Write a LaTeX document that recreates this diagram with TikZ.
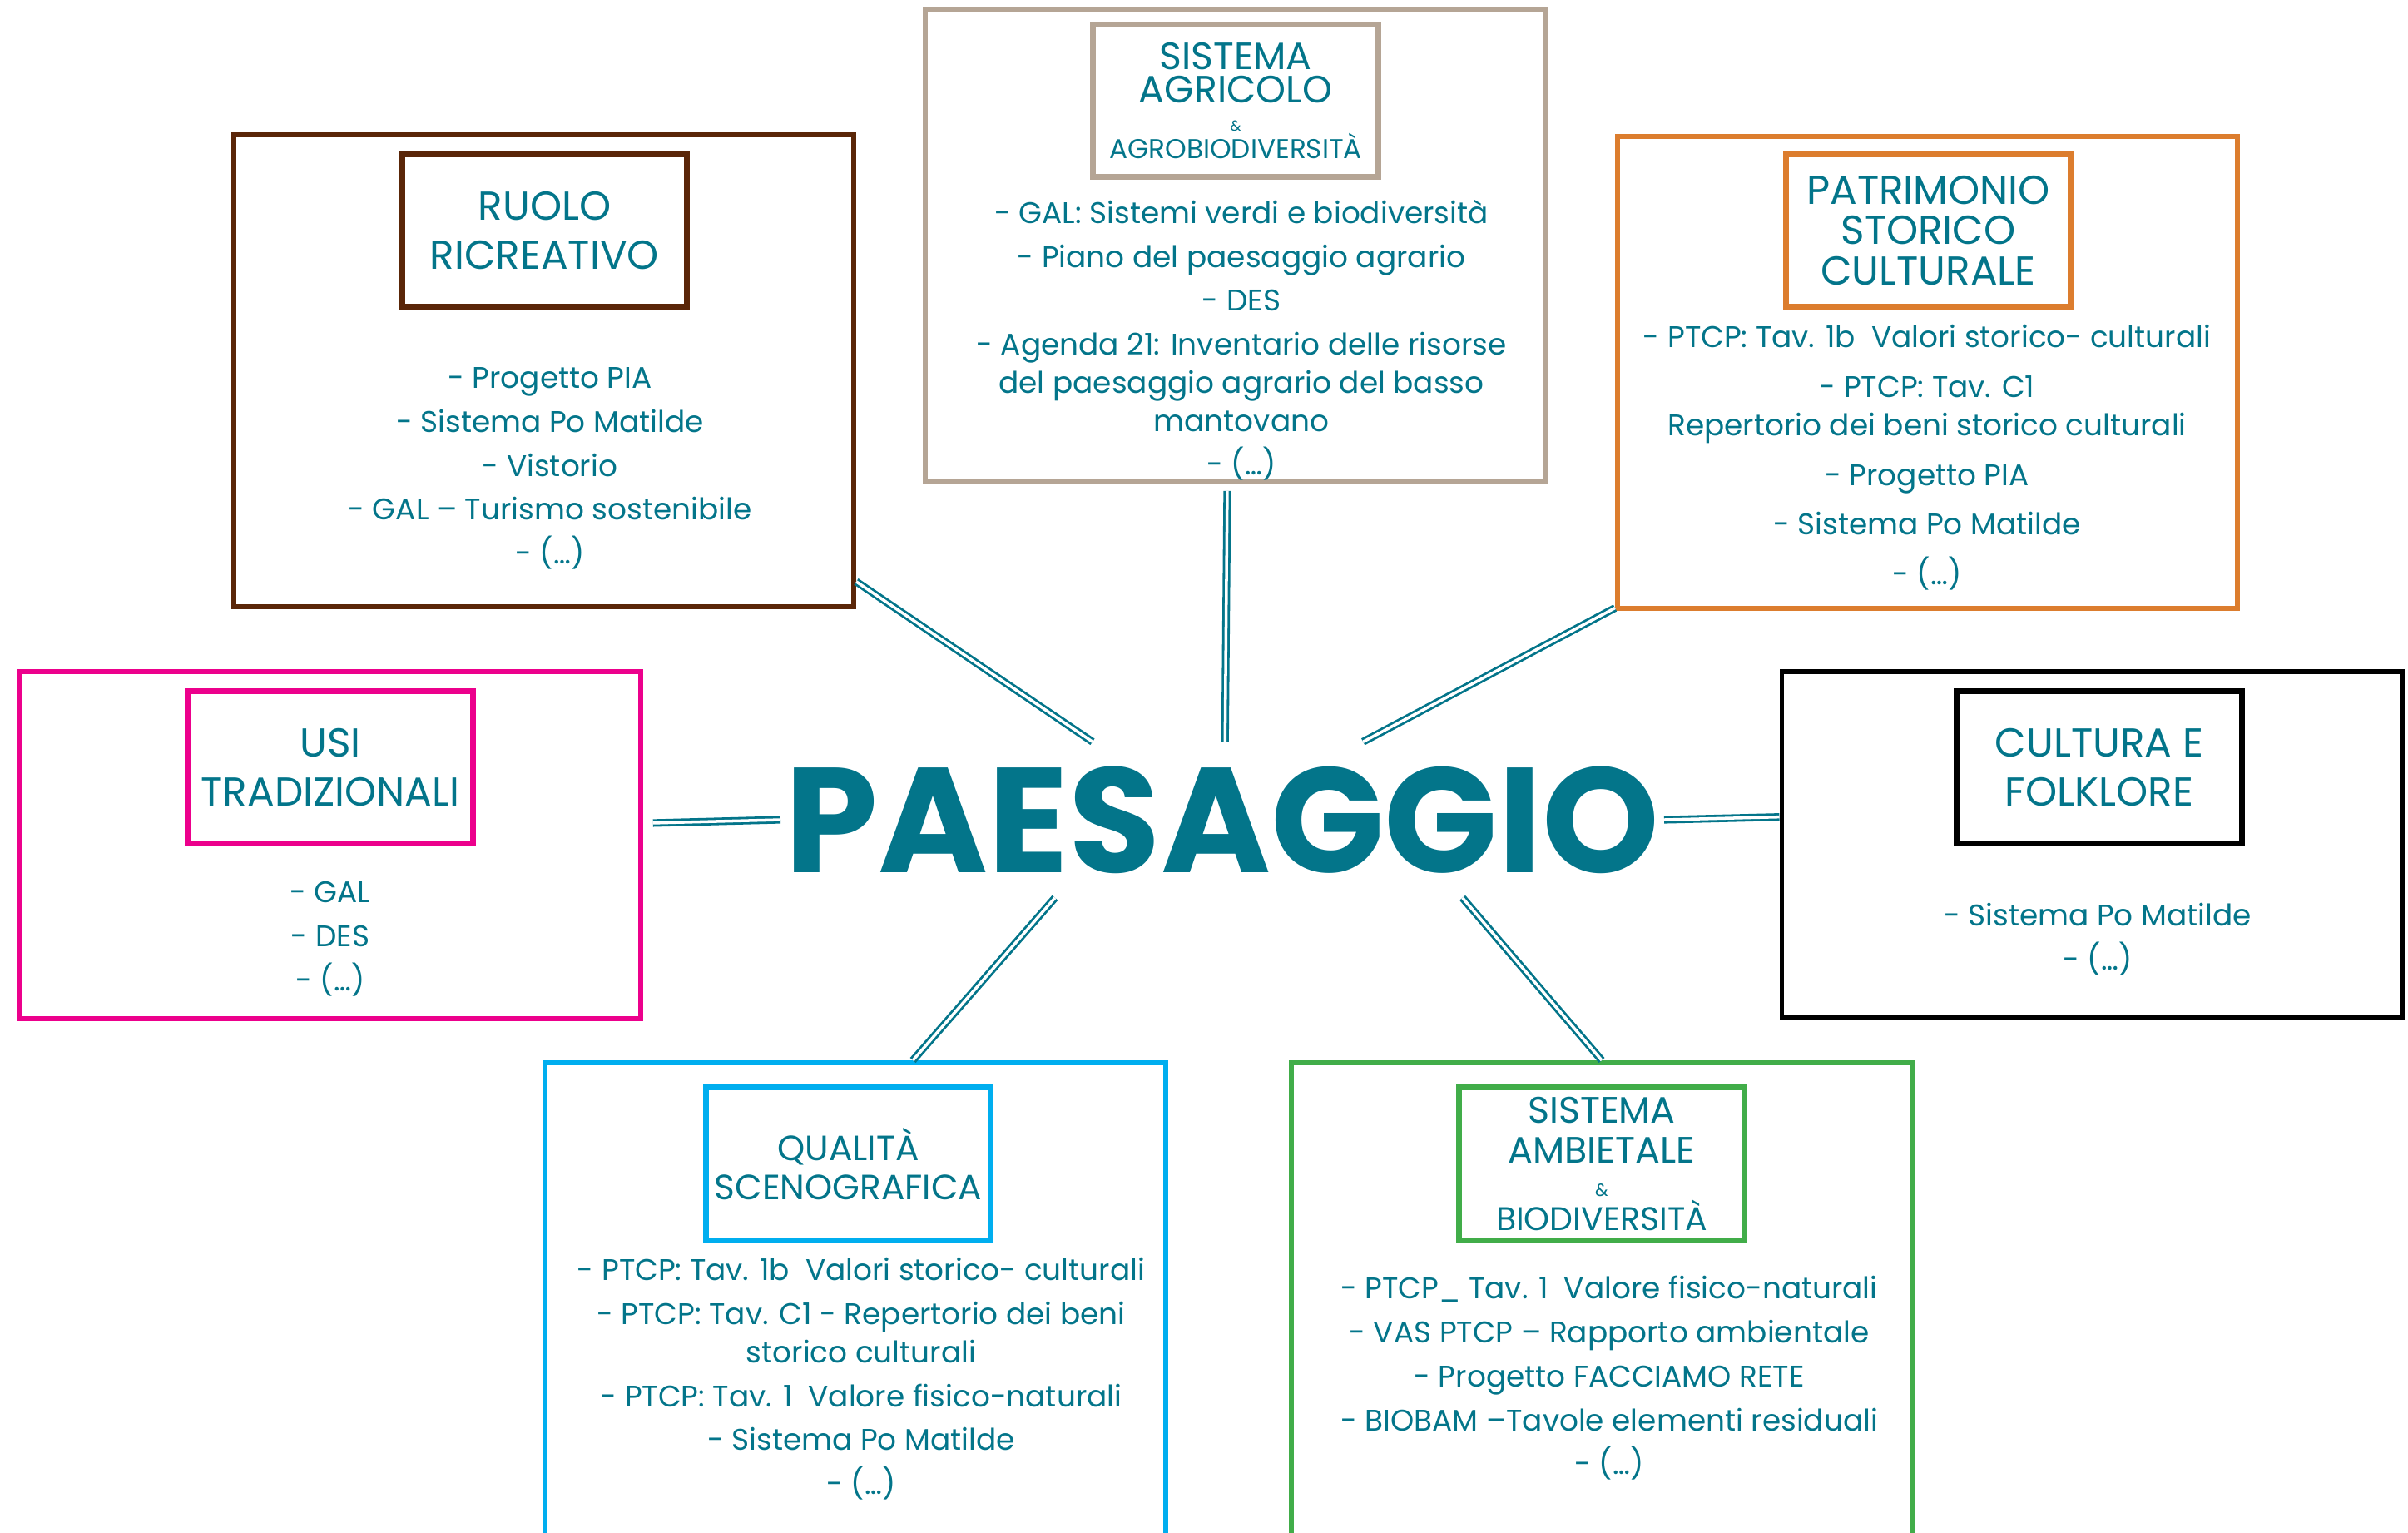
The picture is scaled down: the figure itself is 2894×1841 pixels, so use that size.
\documentclass[tikz,border=0pt]{standalone}
\usepackage{fontspec}
\setmainfont{Poppins}
\definecolor{cText}{RGB}{3,117,138}
\definecolor{cBrown}{RGB}{90,38,8}
\definecolor{cTan}{RGB}{181,165,149}
\definecolor{cOrange}{RGB}{220,125,46}
\definecolor{cMagenta}{RGB}{236,0,140}
\definecolor{cCyan}{RGB}{0,174,239}
\definecolor{cGreen}{RGB}{65,173,73}
\begin{document}
\begin{tikzpicture}[x=0.01cm,y=-0.01cm,
    every node/.style={text=cText,align=center},
    outerbox/.style={draw=#1,line width=1.6pt,minimum width=7.45cm,inner sep=0pt},
    titlebox/.style={draw=#1,line width=2pt,minimum width=3.42cm,minimum height=1.83cm,inner sep=0pt,font=\fontsize{13.8}{17}\selectfont},
    items/.style={font=\fontsize{10.2}{13}\selectfont},
    link/.style={draw=cText,line width=0.8pt,double=white,double distance=1pt}]
        \useasboundingbox (0,0) rectangle (2894,1841);
        %% Centre
        \node[font=\fontsize{51}{51}\selectfont\bfseries,minimum width=10.6cm,minimum height=1.86cm,inner sep=0pt] (paesaggio) at (1469,985) {PAESAGGIO};
        %% Boxes
        \node[outerbox=cBrown,minimum height=5.67cm] (ruolo) at (653.5,445.5) {};
        \node[titlebox=cBrown] (ruoloT) at (654.5,277) {RUOLO\\RICREATIVO};
        \node[items] (ruoloL) at (661,563) {- Progetto PIA\\[2pt]- Sistema Po Matilde\\[2pt]- Vistorio\\[2pt]- GAL – Turismo sostenibile\\[2pt]- (…)};

        \node[outerbox=cTan,minimum height=5.67cm] (agricolo) at (1485,294.5) {};
        \node[titlebox=cTan,font=\fontsize{13}{11.5}\selectfont] (agricoloT) at (1485,121) {SISTEMA\\AGRICOLO\\[-2pt]\fontsize{5}{6}\selectfont\&\\[-2pt]\fontsize{9.3}{10}\selectfont AGROBIODIVERSITÀ};
        \node[items] (agricoloL) at (1492,409) {- GAL: Sistemi verdi e biodiversità\\[2pt]- Piano del paesaggio agrario\\[2pt]- DES\\[2pt]- Agenda 21: Inventario delle risorse\\del paesaggio agrario del basso\\mantovano\\[2pt]- (…)};

        \node[outerbox=cOrange,minimum height=5.67cm] (patrimonio) at (2316.5,447.5) {};
        \node[titlebox=cOrange,font=\fontsize{13.8}{13.8}\selectfont] (patrimonioT) at (2317.5,277) {PATRIMONIO\\STORICO\\CULTURALE};
        \node[items] (patrimonioL) at (2316,550) {- PTCP: Tav. 1b\ \ Valori storico- culturali\\[4pt]- PTCP: Tav. C1\\Repertorio dei beni storico culturali\\[4pt]- Progetto PIA\\[4pt]- Sistema Po Matilde\\[4pt]- (…)};

        \node[outerbox=cMagenta,minimum height=4.17cm] (usi) at (397,1015.5) {};
        \node[titlebox=cMagenta] (usiT) at (397,922) {USI\\TRADIZIONALI};
        \node[items] (usiL) at (397,1128) {- GAL\\[2pt]- DES\\[2pt]- (…)};

        \node[outerbox=black,minimum height=4.15cm] (cultura) at (2514,1014.5) {};
        \node[titlebox=black] (culturaT) at (2523,922) {CULTURA E\\FOLKLORE};
        \node[items] (culturaL) at (2521,1129) {- Sistema Po Matilde\\[2pt]- (…)};

        \node[outerbox=cCyan,minimum height=5.93cm] (qualita) at (1028,1573.5) {};
        \node[titlebox=cCyan,font=\fontsize{12}{13.6}\selectfont] (qualitaT) at (1019.5,1398.5) {QUALITÀ\\SCENOGRAFICA};
        \node[items] (qualitaL) at (1035,1657) {- PTCP: Tav. 1b\ \ Valori storico- culturali\\[2pt]- PTCP: Tav. C1 - Repertorio dei beni\\storico culturali\\[2pt]- PTCP: Tav. 1\ \ Valore fisico-naturali\\[2pt]- Sistema Po Matilde\\[2pt]- (…)};

        \node[outerbox=cGreen,minimum height=5.93cm] (ambientale) at (1925,1573.5) {};
        \node[titlebox=cGreen,font=\fontsize{12.6}{13.6}\selectfont] (ambientaleT) at (1925,1398.5) {SISTEMA\\AMBIETALE\\[-2pt]\fontsize{6}{7}\selectfont\&\\[-2pt]\fontsize{11.2}{12}\selectfont BIODIVERSITÀ};
        \node[items] (ambientaleL) at (1934,1656) {- PTCP\_ Tav. 1\ \ Valore fisico-naturali\\[2pt]- VAS PTCP – Rapporto ambientale\\[2pt]- Progetto FACCIAMO RETE\\[2pt]- BIOBAM –Tavole elementi residuali\\[2pt]- (…)};
        %% Links
        \draw[link] (ruolo.-34.4) -- (paesaggio.149.4);
        \draw[link,shorten <=2.5pt] (agricolo.-92.4) -- (paesaggio.88);
        \draw[link] (patrimonio.-143.8) -- (paesaggio.29.4);
        \draw[link,shorten <=3.5pt] (usi.4.8) -- (paesaggio.180);
        \draw[link] (cultura.175) -- (paesaggio.0);
        \draw[link] (qualita.77.6) -- (paesaggio.-155.4);
        \draw[link] (ambientale.90) -- (paesaggio.-18);
\end{tikzpicture}
\end{document}
